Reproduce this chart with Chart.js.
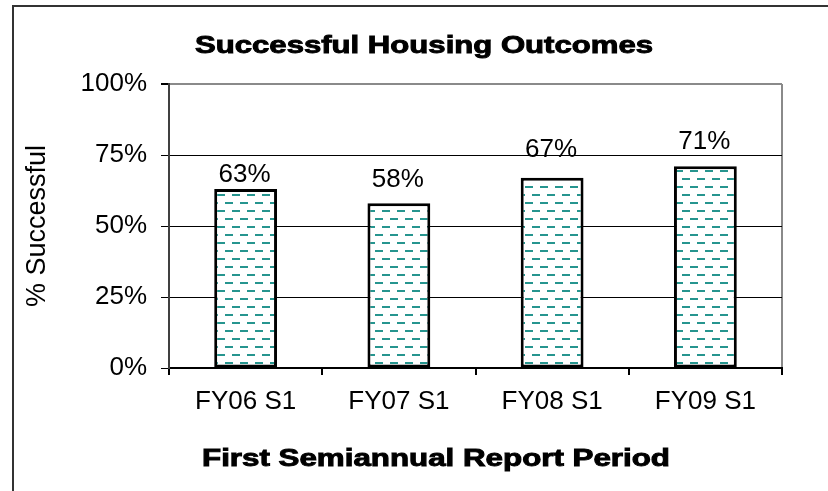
<!DOCTYPE html>
<html>
<head>
<meta charset="utf-8">
<script src="https://cdn.jsdelivr.net/npm/chart.js@4/dist/chart.umd.min.js"></script>
<style>
  html, body { margin: 0; padding: 0; background: #fff; }
  #wrap { position: relative; width: 828px; height: 491px; }
</style>
</head>
<body>
<div id="wrap"><canvas id="c" width="828" height="491"></canvas></div>
<script>
// ---- data ----
const categories = ['FY06 S1', 'FY07 S1', 'FY08 S1', 'FY09 S1'];
const successPct = [63, 58, 67, 71];
const yTickValues = [0, 25, 50, 75, 100];
const chartTitle = 'Successful Housing Outcomes';
const xAxisTitle = 'First Semiannual Report Period';
const yAxisTitle = '% Successful';

const FONT = '"Liberation Sans", Arial, Helvetica, sans-serif';
const canvas = document.getElementById('c');
const ctx0 = canvas.getContext('2d');

function makePattern() {
  const t = document.createElement('canvas');
  t.width = 15; t.height = 16;
  const g = t.getContext('2d');
  g.fillStyle = '#ffffff';
  g.fillRect(0, 0, 15, 16);
  g.fillStyle = '#26958f';
  g.fillRect(7, 2, 8, 2);
  g.fillRect(0, 10, 8, 2);
  return ctx0.createPattern(t, 'repeat');
}

function drawStretched(ctx, text, cx, baseline, font, targetW) {
  ctx.save();
  ctx.font = font;
  const w = ctx.measureText(text).width;
  const s = targetW / w;
  ctx.translate(cx, baseline);
  ctx.scale(s, 1);
  ctx.textAlign = 'center';
  ctx.textBaseline = 'alphabetic';
  ctx.fillStyle = '#000';
  ctx.strokeStyle = '#000';
  ctx.lineWidth = 0.9;
  ctx.fillText(text, 0, 0);
  ctx.strokeText(text, 0, 0);
  ctx.restore();
}

const decorPlugin = {
  id: 'decor',
  beforeDraw(chart) {
    const ctx = chart.ctx;
    ctx.save();
    ctx.fillStyle = '#fff';
    ctx.fillRect(0, 0, chart.width, chart.height);
    ctx.strokeStyle = '#333';
    ctx.lineWidth = 2;
    ctx.beginPath();
    ctx.moveTo(13, chart.height);
    ctx.lineTo(13, 6);
    ctx.lineTo(chart.width, 6);
    ctx.stroke();
    ctx.restore();
  },
  afterDatasetsDraw(chart, args, opts) {
    const ctx = chart.ctx;
    const meta = chart.getDatasetMeta(0);
    const data = chart.data.datasets[0].data;
    const gaps = opts.labelGaps || [];
    ctx.save();
    ctx.font = '26px ' + FONT;
    ctx.fillStyle = '#000';
    ctx.textAlign = 'center';
    ctx.textBaseline = 'alphabetic';
    meta.data.forEach((bar, i) => {
      const gap = gaps[i] !== undefined ? gaps[i] : 7;
      ctx.fillText(data[i] + '%', bar.x - 1, bar.y - gap);
    });
    ctx.restore();
  },
  afterDraw(chart) {
    const ctx = chart.ctx;
    drawStretched(ctx, chartTitle, 424, 53, 'bold 23px ' + FONT, 458);
    drawStretched(ctx, xAxisTitle, 436, 466, 'bold 23px ' + FONT, 468);
  }
};

new Chart(canvas, {
  type: 'bar',
  data: {
    labels: categories,
    datasets: [{
      data: successPct,
      backgroundColor: makePattern(),
      borderColor: '#000',
      borderWidth: 3,
      borderSkipped: false,
      categoryPercentage: 1.0,
      barPercentage: 0.41
    }]
  },
  plugins: [decorPlugin],
  options: {
    responsive: false,
    animation: false,
    devicePixelRatio: 1,
    layout: { padding: { left: 13, top: 84, right: 46, bottom: 63 } },
    plugins: {
      legend: { display: false },
      title: { display: false },
      tooltip: { enabled: false },
      decor: { labelGaps: [7, 16, 21, 17] }
    },
    scales: {
      x: {
        offset: true,
        afterFit(scale) { scale.height = 60; },
        grid: {
          offset: true,
          drawOnChartArea: true,
          drawTicks: true,
          tickLength: 7,
          tickColor: '#000',
          lineWidth: 2,
          color: (c) => (c.type === 'tick' ? 'rgba(0,0,0,0)' : '#8a8a8a')
        },
        border: { display: true, color: '#000', width: 2 },
        ticks: {
          color: '#000',
          padding: 11,
          font: { family: FONT, size: 26 },
          maxRotation: 0
        }
      },
      y: {
        min: 0,
        max: 100,
        afterFit(scale) { scale.width = 156; },
        afterBuildTicks(scale) { scale.ticks = yTickValues.map(v => ({ value: v })); },
        grid: {
          drawTicks: true,
          tickLength: 8,
          tickColor: '#000',
          color: (c) => (c.tick && c.tick.value === 100 ? '#8a8a8a' : '#000'),
          lineWidth: (c) => (c.tick && c.tick.value === 100 ? 2 : 1)
        },
        border: { display: true, color: '#404040', width: 2 },
        title: {
          display: true,
          text: yAxisTitle,
          color: '#000',
          padding: { top: 8, bottom: 0 },
          font: { family: FONT, size: 27 }
        },
        ticks: {
          color: '#000',
          padding: 14,
          font: { family: FONT, size: 26 },
          callback: (v) => v + '%'
        }
      }
    }
  }
});
</script>
</body>
</html>
